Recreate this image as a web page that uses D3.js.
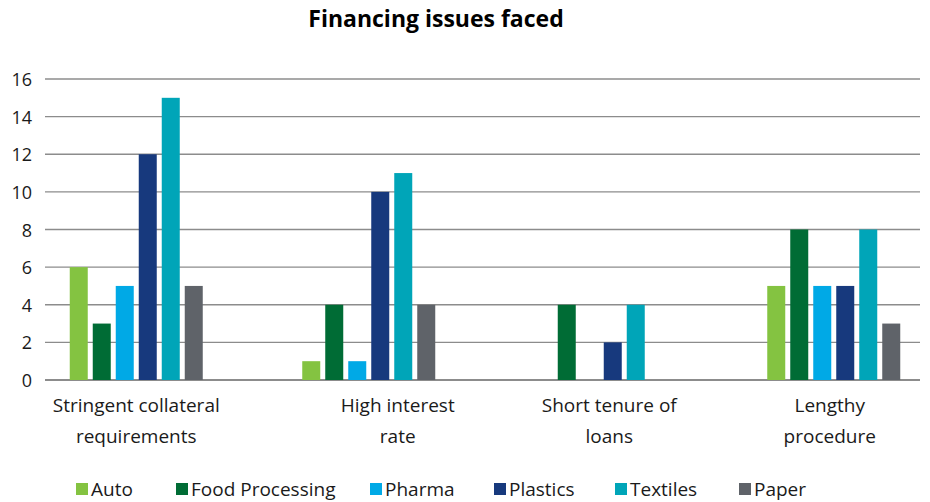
<!DOCTYPE html>
<html>
<head>
<meta charset="utf-8">
<script src="https://cdn.jsdelivr.net/npm/d3@7"></script>
<style>
  body { margin: 0; background: #fff; }
  text { font-family: "Open Sans", sans-serif; fill: #1a1a1a; }
</style>
</head>
<body>
<script>
const categories = [
  ["Stringent collateral", "requirements"],
  ["High interest", "rate"],
  ["Short tenure of", "loans"],
  ["Lengthy", "procedure"]
];
const seriesNames = ["Auto", "Food Processing", "Pharma", "Plastics", "Textiles", "Paper"];
const auto = [6, 1, 0, 5];
const foodProcessing = [3, 4, 4, 8];
const pharma = [5, 1, 0, 5];
const plastics = [12, 10, 2, 5];
const textiles = [15, 11, 4, 8];
const paper = [5, 4, 0, 3];
const yTicks = [0, 2, 4, 6, 8, 10, 12, 14, 16];

const colors = ["#84c341", "#006c35", "#00a9e6", "#17397d", "#00a5b8", "#5f6369"];
const allSeries = [auto, foodProcessing, pharma, plastics, textiles, paper];

const w = 930, h = 502;
const plotLeft = 45, plotRight = 920, plotTop = 79, plotBottom = 380;

const svg = d3.select("body").append("svg")
  .attr("width", w)
  .attr("height", h);

svg.append("text")
  .attr("x", 436).attr("y", 27)
  .attr("text-anchor", "middle")
  .style("font-size", "23px").style("font-weight", "bold")
  .style("fill", "#000")
  .text("Financing issues faced");

const y = d3.scaleLinear().domain([0, 16]).range([plotBottom, plotTop]);

const x = d3.scaleBand()
  .domain(d3.range(categories.length))
  .range([20, 950]);

const xi = d3.scaleBand()
  .domain(seriesNames)
  .range([-69, 69])
  .paddingInner(5 / 23)
  .paddingOuter(2.5 / 23);

// grid
svg.append("g").selectAll("line")
  .data(yTicks)
  .join("line")
  .attr("x1", plotLeft).attr("x2", plotRight)
  .attr("y1", d => y(d)).attr("y2", d => y(d))
  .attr("stroke", "#8c8c8c")
  .attr("stroke-width", d => d === 0 ? 2 : 1.3);

svg.append("g").selectAll("text")
  .data(yTicks)
  .join("text")
  .attr("x", 32)
  .attr("y", d => y(d) + 7)
  .attr("text-anchor", "end")
  .style("font-size", "18px")
  .text(d => d);

// bars
const groups = svg.append("g").selectAll("g")
  .data(categories)
  .join("g")
  .attr("transform", (d, i) => `translate(${x(i) + x.bandwidth() / 2},0)`);

groups.selectAll("rect")
  .data((d, i) => seriesNames.map((s, j) => ({ s, j, v: allSeries[j][i] })))
  .join("rect")
  .attr("x", d => xi(d.s))
  .attr("width", xi.bandwidth())
  .attr("y", d => y(d.v))
  .attr("height", d => y(0) - y(d.v))
  .attr("fill", d => colors[d.j]);

// category labels sit a little off the group centres in the original
const labelShift = [0, 29, 8, -4];
groups.selectAll("text")
  .data((d, i) => d.map(t => ({ t, dx: labelShift[i] })))
  .join("text")
  .attr("x", d => d.dx)
  .attr("y", (d, i) => 412 + i * 31)
  .attr("text-anchor", "middle")
  .style("font-size", "19px")
  .text(d => d.t);

// legend
const legendX = [76, 176, 370, 494, 615, 739];
const legend = svg.append("g").attr("id", "legend");
legend.selectAll("rect")
  .data(seriesNames)
  .join("rect")
  .attr("x", (d, i) => legendX[i])
  .attr("y", 483)
  .attr("width", 12)
  .attr("height", 12)
  .attr("fill", (d, i) => colors[i]);
legend.selectAll("text")
  .data(seriesNames)
  .join("text")
  .attr("x", (d, i) => legendX[i] + 15)
  .attr("y", 496)
  .style("font-size", "19px")
  .text(d => d);
</script>
</body>
</html>
